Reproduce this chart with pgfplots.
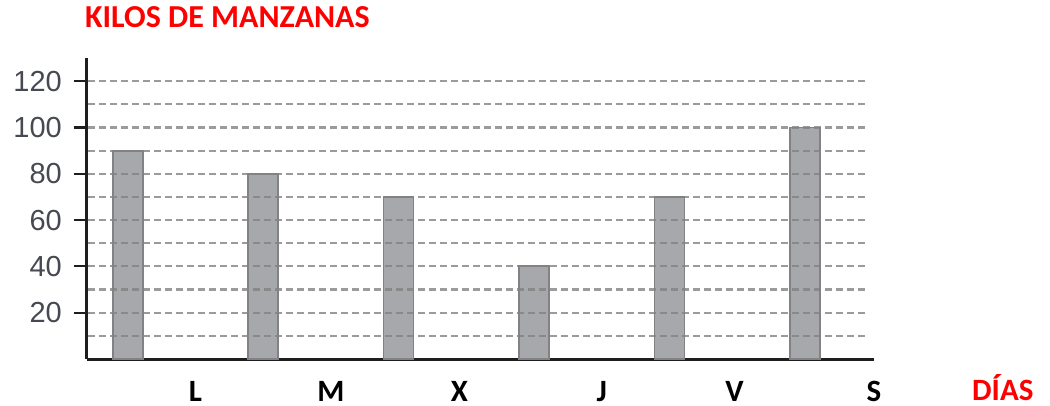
\documentclass[border=0pt]{standalone}
\usepackage{fontspec}
\setmainfont{Liberation Sans}
\newfontfamily\carlito{Carlito}
\usepackage{pgfplots}
\pgfplotsset{compat=1.18}
\definecolor{barfill}{RGB}{167,168,171}
\definecolor{baredge}{RGB}{130,130,133}
\definecolor{gridc}{RGB}{130,130,130}
\definecolor{ticklab}{RGB}{70,72,82}
\definecolor{axisc}{RGB}{30,30,30}
\begin{document}
\begin{tikzpicture}
\path[use as bounding box] (0,0) rectangle (1050pt,405pt);
\begin{axis}[
  at={(87pt,46pt)}, anchor=south west,
  scale only axis, width=787pt, height=301pt,
  xmin=-0.30, xmax=5.51, ymin=0, ymax=130,
  axis x line*=bottom, axis y line*=left,
  axis line style={line width=3pt, color=axisc},
  ybar, bar width=30pt,
  xtick={0.5,1.5,2.45,3.5,4.48,5.51},
  xticklabels={L,M,X,J,V,S},
  x tick style={draw=none},
  xticklabel style={inner sep=0pt, yshift=-9pt, font=\carlito\bfseries\fontsize{31}{31}\selectfont},
  ytick={20,40,60,80,100,120},
  major tick length=13pt,
  y tick style={xshift=-13pt, line width=2.2pt, color=axisc},
  yticklabel style={inner sep=0pt, xshift=-25pt, font=\fontsize{29}{29}\selectfont, color=ticklab},
  /pgf/number format/assume math mode=true,
  clip=false,
]
\addplot[fill=barfill, draw=baredge, line width=1.8pt] coordinates {(0,90) (1,80) (2,70) (3,40) (4,70) (5,100)};
\pgfplotsinvokeforeach{10,20,30,40,50,60,70,80,90,100,110,120}{
  \draw[gridc, line width=2.2pt, dash pattern=on 7pt off 4pt, opacity=0.8] (axis cs:-0.29,#1) -- (axis cs:5.47,#1);
}
\end{axis}
\node[anchor=base west, inner sep=0pt, text=red, font=\carlito\bfseries\fontsize{32}{32}\selectfont] at (85pt,377pt) {KILOS DE MANZANAS};
\node[anchor=base west, inner sep=0pt, text=red, font=\carlito\bfseries\fontsize{31}{31}\selectfont] at (972pt,5pt) {DÍAS};
\end{tikzpicture}
\end{document}
